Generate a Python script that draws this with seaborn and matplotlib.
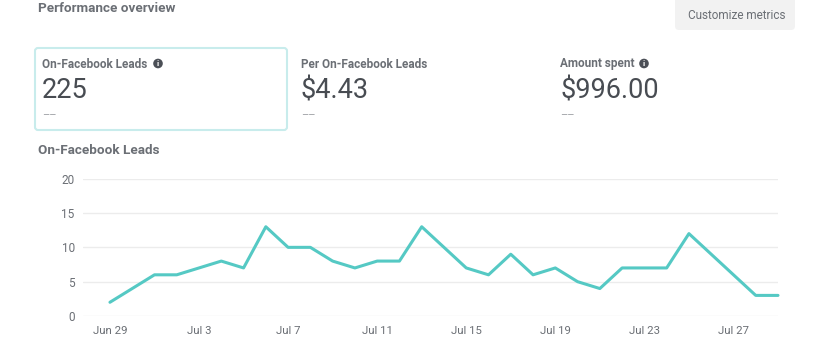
import pandas as pd
import matplotlib
matplotlib.use("Agg")
import matplotlib.pyplot as plt
from matplotlib.patches import FancyBboxPatch, Circle
import seaborn as sns

# daily leads, Jun 29 - Jul 29
start_date = "2021-06-29"
leads = [2, 4, 6, 6, 7, 8, 7, 13, 10, 10, 8, 7, 8, 8, 13, 10, 7, 6, 9, 6, 7, 5, 4, 7, 7, 7, 12, 9, 6, 3, 3]
y_ticks = [0, 5, 10, 15, 20]
x_tick_dates = ["2021-06-29", "2021-07-03", "2021-07-07", "2021-07-11", "2021-07-15", "2021-07-19", "2021-07-23", "2021-07-27"]
x_tick_labels = ["Jun 29", "Jul 3", "Jul 7", "Jul 11", "Jul 15", "Jul 19", "Jul 23", "Jul 27"]

metric_names = ["On-Facebook Leads", "Per On-Facebook Leads", "Amount spent"]
metric_values = ["225", "$4.43", "$996.00"]

W, H = 821, 352
TEAL = "#55c9c4"
DARK = "#484c52"
GREY = "#6b6f75"

sns.set_theme(style="white")
plt.rcParams["font.family"] = ["Roboto", "DejaVu Sans"]

df = pd.DataFrame({"date": pd.date_range(start_date, periods=len(leads)), "leads": leads})

fig = plt.figure(figsize=(W / 100, H / 100), dpi=100, facecolor="white")

# overlay in pixel coords for the cards and headings
bg = fig.add_axes([0, 0, 1, 1])
bg.set_xlim(0, W)
bg.set_ylim(H, 0)
bg.axis("off")

bg.text(38, 8.5, "Performance overview", fontsize=9.7, fontweight="bold", color=GREY, va="center")

button = FancyBboxPatch((675, -8), 120, 38, boxstyle="round,pad=0,rounding_size=4", fc="#f2f2f2", ec="none")
bg.add_patch(button)
bg.text(688, 15.5, "Customize metrics", fontsize=8.5, color=GREY, va="center")

card = FancyBboxPatch((35, 48), 252, 82, boxstyle="round,pad=0,rounding_size=3", fc="white", ec="#c8ecec", lw=1.5)
bg.add_patch(card)

info_x = [158, None, 644]
for name, value, x, ix in zip(metric_names, metric_values, [42, 301, 560], info_x):
    bg.text(x, 64, name, fontsize=8.5, fontweight="bold", color=GREY, va="center")
    bg.text(x, 91, value, fontsize=19.5, color=DARK, va="center")
    bg.text(x, 115, "\u2013\u2013", fontsize=8, color="#9a9da1", va="center")
    if ix is not None:
        bg.add_patch(Circle((ix, 63.5), 4.8, fc="#4b4f56", ec="none"))
        bg.text(ix, 64, "i", fontsize=6, fontweight="bold", color="white", ha="center", va="center")

bg.text(38, 150, "On-Facebook Leads", fontsize=9.7, fontweight="bold", color=GREY, va="center")

ax = fig.add_axes([83 / W, (H - 316) / H, 695 / W, 137.3 / H])
ax.patch.set_alpha(0)
sns.lineplot(data=df, x="date", y="leads", color=TEAL, linewidth=2.2, ax=ax, clip_on=False)

ax.set_ylim(0, 20)
ax.set_xlim(pd.Timestamp(start_date) - pd.Timedelta(days=1.21), df["date"].iloc[-1])
ax.set_yticks(y_ticks)
ax.set_xticks(pd.to_datetime(x_tick_dates))
ax.set_xticklabels(x_tick_labels)
ax.set_xlabel("")
ax.set_ylabel("")
ax.grid(axis="y", color="#ececec", linewidth=1)
ax.grid(axis="x", visible=False)
ax.set_axisbelow(True)
sns.despine(ax=ax, left=True, bottom=True, top=True, right=True)
ax.tick_params(axis="x", length=0, pad=7, labelsize=8.2, labelcolor=GREY)
ax.tick_params(axis="y", length=0, pad=6, labelsize=8.5, labelcolor=GREY)

fig.savefig("out.png", dpi=100)
